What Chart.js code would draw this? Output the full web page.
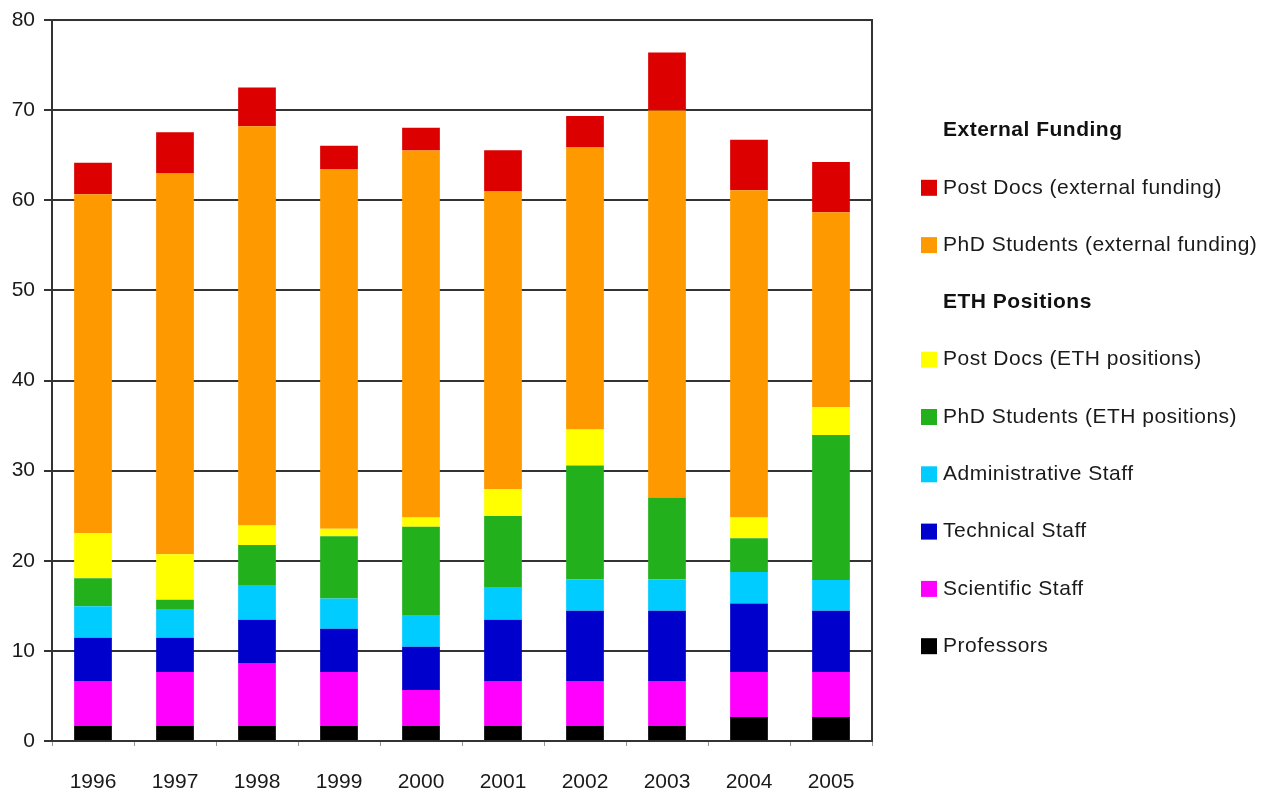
<!DOCTYPE html>
<html>
<head>
<meta charset="utf-8">
<script src="https://cdn.jsdelivr.net/npm/chart.js@4.4.1/dist/chart.umd.min.js"></script>
<style>
  html, body { margin: 0; padding: 0; background: #ffffff; overflow: hidden; }
  #wrap { width: 1274px; height: 789px; position: relative; }
</style>
</head>
<body>
<div id="wrap"><canvas id="staff"></canvas></div>
<script>
// Years on the x axis
const years = ['1996', '1997', '1998', '1999', '2000', '2001', '2002', '2003', '2004', '2005'];

// Head counts per staff group, stacked from the bottom up
const professors       = [1.66, 1.66, 1.66, 1.66, 1.66, 1.66, 1.66, 1.66, 2.66, 2.66];
const scientificStaff  = [5.0, 6.0, 7.0, 6.0, 4.0, 5.0, 5.0, 5.0, 5.0, 5.0];
const technicalStaff   = [4.8, 3.8, 4.8, 4.8, 4.8, 6.8, 7.8, 7.8, 7.6, 6.8];
const adminStaff       = [3.5, 3.2, 3.85, 3.35, 3.45, 3.55, 3.5, 3.5, 3.5, 3.4];
const phdEth           = [3.1, 1.0, 4.45, 6.9, 9.85, 7.95, 12.6, 9.05, 3.75, 16.1];
const postDocEth       = [5.0, 5.05, 2.15, 0.85, 1.05, 3.0, 4.0, 0, 2.3, 3.1];
const phdExternal      = [37.6, 42.25, 44.3, 39.9, 40.7, 33.0, 31.3, 42.95, 36.3, 21.6];
const postDocExternal  = [3.5, 4.6, 4.3, 2.6, 2.55, 4.6, 3.5, 6.45, 5.6, 5.6];

// Y axis range and step
const yMin = 0, yMax = 80, yStep = 10;

// Legend section headings
const headingExternal = 'External Funding';
const headingEth = 'ETH Positions';

const series = [
  { label: 'Professors',                     data: professors,      color: '#000000' },
  { label: 'Scientific Staff',               data: scientificStaff, color: '#ff00ff' },
  { label: 'Technical Staff',                data: technicalStaff,  color: '#0000cc' },
  { label: 'Administrative Staff',           data: adminStaff,      color: '#00ccff' },
  { label: 'PhD Students (ETH positions)',   data: phdEth,          color: '#22b11c' },
  { label: 'Post Docs (ETH positions)',      data: postDocEth,      color: '#ffff00' },
  { label: 'PhD Students (external funding)',data: phdExternal,     color: '#ff9900' },
  { label: 'Post Docs (external funding)',   data: postDocExternal, color: '#dd0000' }
];

const FONT = '"Liberation Sans", Arial, Helvetica, sans-serif';

// Frame around the plotting area
const frame = {
  id: 'frame',
  afterDatasetsDraw(chart) {
    const { ctx, chartArea: a } = chart;
    ctx.save();
    ctx.strokeStyle = '#333333';
    ctx.lineWidth = 2;
    ctx.strokeRect(a.left, a.top, a.right - a.left, a.bottom - a.top);
    ctx.restore();
  }
};

// Grouped legend on the right, listed top-down (reverse stacking order)
const groupedLegend = {
  id: 'groupedLegend',
  afterDraw(chart) {
    const { ctx } = chart;
    const ds = chart.data.datasets;
    const rows = [
      { heading: headingExternal },
      { ds: ds[7] }, { ds: ds[6] },
      { heading: headingEth },
      { ds: ds[5] }, { ds: ds[4] }, { ds: ds[3] }, { ds: ds[2] }, { ds: ds[1] }, { ds: ds[0] }
    ];
    const boxX = 921, textX = 943, top = 130.5, step = 57.3, box = 16;
    ctx.save();
    ctx.textBaseline = 'middle';
    ctx.textAlign = 'left';
    ctx.letterSpacing = '0.5px';
    rows.forEach((r, i) => {
      const y = top + i * step;
      if (r.heading) {
        ctx.font = 'bold 21px ' + FONT;
        ctx.fillStyle = '#111111';
        ctx.fillText(r.heading, textX, y);
      } else {
        ctx.fillStyle = r.ds.backgroundColor;
        ctx.fillRect(boxX, y - box / 2, box, box);
        ctx.font = '21px ' + FONT;
        ctx.fillStyle = '#1a1a1a';
        ctx.fillText(r.ds.label, textX, y);
      }
    });
    ctx.letterSpacing = '0px';
    ctx.restore();
  }
};

new Chart(document.getElementById('staff'), {
  type: 'bar',
  data: {
    labels: years,
    datasets: series.map(s => ({
      label: s.label,
      data: s.data,
      backgroundColor: s.color,
      borderWidth: 0,
      categoryPercentage: 1.0,
      barPercentage: 0.46
    }))
  },
  options: {
    responsive: true,
    maintainAspectRatio: false,
    animation: false,
    devicePixelRatio: 1,
    layout: { padding: { left: 0, right: 402, top: 6.5, bottom: 0 } },
    plugins: {
      legend: { display: false },
      tooltip: { enabled: false }
    },
    scales: {
      x: {
        stacked: true,
        afterFit(scale) { scale.height = 48; },
        grid: {
          display: true,
          drawOnChartArea: false,
          drawTicks: true,
          tickLength: 5,
          color: '#999999',
          lineWidth: 1
        },
        border: { display: true, color: '#333333', width: 2 },
        ticks: {
          color: '#1a1a1a',
          font: { family: FONT, size: 21 },
          padding: 24
        }
      },
      y: {
        stacked: true,
        min: yMin,
        max: yMax,
        afterFit(scale) { scale.width = 52; },
        grid: {
          color: '#333333',
          lineWidth: 2,
          drawTicks: true,
          tickLength: 8
        },
        border: { display: true, color: '#333333', width: 2 },
        ticks: {
          stepSize: yStep,
          color: '#1a1a1a',
          font: { family: FONT, size: 21, lineHeight: 1.05 },
          padding: 9
        }
      }
    }
  },
  plugins: [frame, groupedLegend]
});
</script>
</body>
</html>
